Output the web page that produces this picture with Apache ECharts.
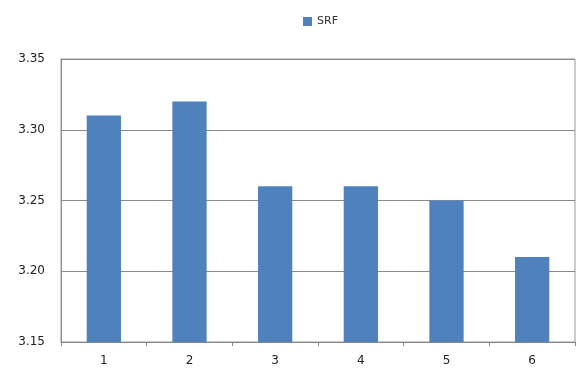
<!DOCTYPE html>
<html>
<head>
<meta charset="utf-8">
<script src="https://cdn.jsdelivr.net/npm/echarts@6/dist/echarts.min.js"></script>
<style>
  html, body { margin: 0; padding: 0; background: #fff; }
  #container { width: 581px; height: 374px; }
</style>
</head>
<body>
<div id="container"></div>
<script>
var categories = ['1', '2', '3', '4', '5', '6'];
var srfValues = [3.31, 3.32, 3.26, 3.26, 3.25, 3.21];
var yTicks = [3.15, 3.20, 3.25, 3.30, 3.35];

var myChart = echarts.init(document.getElementById('container'));

var options = {
  animation: false,
  textStyle: { fontFamily: 'DejaVu Sans' },
  legend: {
    data: [{ name: 'SRF', icon: 'rect' }],
    top: 11,
    left: 298,
    itemWidth: 9,
    itemHeight: 9,
    itemGap: 4,
    textStyle: { fontSize: 11, color: '#333' }
  },
  grid: {
    left: 61,
    right: 6,
    top: 59,
    bottom: 32,
    show: true,
    borderColor: '#999',
    borderWidth: 1,
    containLabel: false
  },
  xAxis: {
    type: 'category',
    data: categories,
    axisLine: { lineStyle: { color: '#888' } },
    axisTick: { show: true, length: 4, lineStyle: { color: '#888' } },
    axisLabel: { fontSize: 12, color: '#222', margin: 13 }
  },
  yAxis: {
    type: 'value',
    min: yTicks[0],
    max: yTicks[yTicks.length - 1],
    interval: 0.05,
    axisLine: { show: true, lineStyle: { color: '#8091a8' } },
    axisTick: { show: false },
    axisLabel: {
      fontSize: 12,
      color: '#222',
      margin: 16,
      formatter: function (v) { return v.toFixed(2); }
    },
    splitLine: { lineStyle: { color: '#8a8a8a' } }
  },
  series: [{
    name: 'SRF',
    type: 'bar',
    data: srfValues,
    barWidth: '40%',
    itemStyle: { color: '#4f81bd' }
  }]
};

myChart.setOption(options);
</script>
</body>
</html>
